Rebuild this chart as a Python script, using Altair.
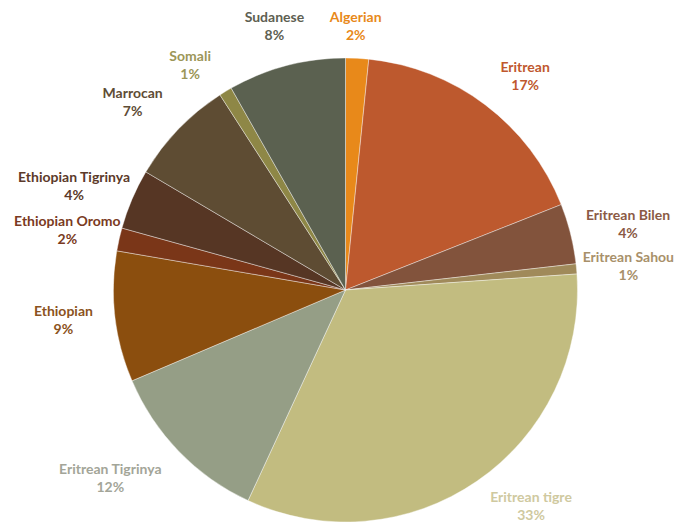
import altair as alt
import pandas as pd

categories = ["Algerian", "Eritrean", "Eritrean Bilen", "Eritrean Sahou", "Eritrean tigre",
              "Eritrean Tigrinya", "Ethiopian", "Ethiopian Oromo", "Ethiopian Tigrinya",
              "Marrocan", "Somali", "Sudanese"]
values = [1.6, 17.4, 4.2, 0.7, 33.0, 11.7, 9.1, 1.6, 4.2, 7.4, 0.9, 8.2]

slice_colors = ["#E8891A", "#BD592E", "#82533C", "#A08A5A", "#C2BC80", "#959E86",
                "#8B4E0E", "#7A3618", "#563624", "#5E4C33", "#8E8746", "#5B6150"]
label_colors = ["#E8891A", "#C0582E", "#8B5A45", "#A8906A", "#CFC9A0", "#A3A598",
                "#8B5220", "#7A3A22", "#5C3A2A", "#5E4C35", "#9C9658", "#5E6052"]

# label nudges (style): dx, dy in pixels
label_nudge = {
    "Algerian": (-4, 11), "Eritrean": (9, 4), "Eritrean Bilen": (8, -5),
    "Eritrean Sahou": (1, -6), "Eritrean tigre": (25, -25), "Eritrean Tigrinya": (-32, -17),
    "Ethiopian": (-1, -11), "Ethiopian Oromo": (-2, -6), "Ethiopian Tigrinya": (-11, -1),
    "Marrocan": (-9, 0), "Somali": (-9, 9), "Sudanese": (1, 2),
}

total = sum(values)
df = pd.DataFrame({
    "category": categories,
    "value": values,
    "idx": list(range(len(categories))),
    "label": [f"{c}\n{v / total * 100:.0f}%" for c, v in zip(categories, values)],
})

base = alt.Chart(df).transform_window(
    cum="sum(value)", sort=[alt.SortField("idx")], frame=[None, 0]
).transform_calculate(
    start="datum.cum - datum.value",
    mid="datum.cum - datum.value / 2",
)

theta_scale = alt.Scale(domain=[0, total])

arcs = base.mark_arc(outerRadius=232, stroke="#ffffff", strokeWidth=0.4).encode(
    theta=alt.Theta("start:Q", scale=theta_scale),
    theta2="cum:Q",
    color=alt.Color("category:N", scale=alt.Scale(domain=categories, range=slice_colors), legend=None),
)

texts = []
for c, col in zip(categories, label_colors):
    dx, dy = label_nudge[c]
    t = base.transform_filter(alt.datum.category == c).mark_text(
        radius=283, dx=dx, dy=dy, fontSize=14, fontWeight="bold", font="Lato",
        color=col, lineBreak="\n", lineHeight=18, align="center", baseline="middle",
    ).encode(
        theta=alt.Theta("mid:Q", scale=theta_scale),
        text="label:N",
    )
    texts.append(t)

chart = alt.layer(arcs, *texts).properties(
    width=659, height=468,
    padding={"left": 16, "top": 56, "right": 0, "bottom": 0},
    autosize="none",
    background="#ffffff",
).configure_view(stroke=None)

chart.save("out.html", embed_options={"renderer": "svg", "actions": False})
